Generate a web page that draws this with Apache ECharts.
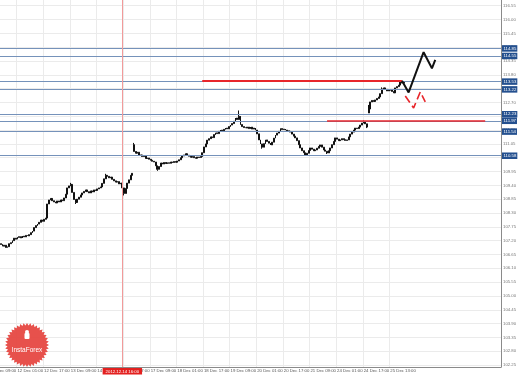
<!DOCTYPE html>
<html><head><meta charset="utf-8">
<script src="https://cdn.jsdelivr.net/npm/echarts@6/dist/echarts.min.js"></script>
<style>html,body{margin:0;padding:0;background:#fff}#c{width:518px;height:376px}</style>
</head><body><div id="c"></div>
<script>
// hourly closes, EUR/JPY-like, bar 0 = 11 Dec 15:00
const closes = [
107.05,106.98,107.02,106.93,106.96,107.08,107.12,107.20,107.30,107.26,
107.33,107.36,107.31,107.38,107.35,107.41,107.39,107.44,107.52,107.58,
107.72,107.80,107.86,107.93,108.02,107.97,108.05,108.10,108.66,108.82,
108.88,108.79,108.74,108.70,108.78,108.74,108.82,108.79,108.90,109.05,
109.30,109.38,109.44,109.12,108.84,108.72,108.85,108.93,109.02,109.10,
109.16,109.22,109.15,109.10,109.18,109.14,109.22,109.20,109.26,109.30,
109.34,109.48,109.66,109.80,109.76,109.70,109.73,109.64,109.58,109.53,
109.55,109.46,109.49,109.30,109.08,109.28,109.49,109.62,109.80,109.88,
110.75,110.68,110.72,110.60,110.61,110.55,110.58,110.47,110.49,110.44,
110.40,110.36,110.33,110.18,110.04,110.15,110.29,110.25,110.31,110.27,
110.30,110.28,110.33,110.31,110.35,110.32,110.37,110.42,110.50,110.57,
110.61,110.66,110.60,110.56,110.52,110.55,110.50,110.48,110.53,110.51,
110.55,110.70,110.93,111.05,111.20,111.26,111.33,111.30,111.42,111.49,
111.46,111.55,111.60,111.57,111.63,111.68,111.65,111.74,111.80,111.86,
111.95,112.08,112.02,112.15,111.82,111.74,111.70,111.68,111.72,111.66,
111.72,111.64,111.68,111.60,111.45,111.21,111.05,110.92,111.06,111.21,
111.15,111.08,111.01,111.12,111.28,111.40,111.48,111.55,111.66,111.62,
111.64,111.60,111.57,111.55,111.52,111.44,111.36,111.29,111.18,111.02,
110.89,110.78,110.70,110.61,110.68,110.79,110.89,110.84,110.78,110.81,
110.88,110.95,111.01,110.92,110.81,110.76,110.69,110.78,110.89,111.02,
111.15,111.29,111.24,111.18,111.21,111.26,111.22,111.19,111.21,111.33,
111.44,111.52,111.60,111.68,111.66,111.72,111.80,111.88,111.92,111.85,
111.72,112.44,112.72,112.78,112.74,112.80,112.86,112.92,113.05,113.24,
113.28,113.22,113.16,113.19,113.20,113.14,113.08,113.28,113.33,113.39,
113.51,113.47,113.50
];
const gapOpens = {0: 107.08, 80: 111.02, 221: 112.28};
const wickHighs = {80: 111.09, 143: 112.38, 221: 112.60, 229: 113.30, 218: 111.98, 42: 109.50, 63: 109.86};
const wickLows = {74: 109.00, 94: 109.98, 157: 110.86, 183: 110.57, 196: 110.65, 220: 111.68, 45: 108.66};
const totalSlots = 301;
const firstLabelBar = 10, labelStep = 16;
const xTickLabels = ['12 Dec 01:00','12 Dec 17:00','13 Dec 09:00','14 Dec 01:00','14 Dec 17:00',
  '17 Dec 09:00','18 Dec 01:00','18 Dec 17:00','19 Dec 09:00','20 Dec 01:00','20 Dec 17:00',
  '21 Dec 09:00','24 Dec 01:00','24 Dec 17:00','25 Dec 13:00'];
const yTicks = [102.25,102.80,103.35,103.90,104.45,105.00,105.55,106.10,106.65,107.20,107.75,
  108.30,108.85,109.40,109.95,110.50,111.05,111.60,112.15,112.70,113.25,113.80,114.35,114.90,
  115.45,116.00,116.55];
const levelLines = [114.85, 114.55, 113.53, 113.22, 112.23, 111.97, 111.54, 110.58];
const redLevelValues = [113.56, 111.96];
const redLevelStart = [121, 196];
const redLevelEnd = [241, 291];
const forecastBars = [241, 245, 254, 259, 261];
const forecastValues = [113.56, 113.10, 114.70, 114.06, 114.39];
const altBars = [243, 248, 252, 255];
const altValues = [112.96, 112.48, 113.12, 112.72];
const cursorBar = 73, cursorLabel = '2012.12.14 16:00';

const FONT = 'Liberation Sans';
const candles = closes.map((c, i) => {
  const o = gapOpens[i] !== undefined ? gapOpens[i] : closes[i - 1];
  const hi = wickHighs[i] !== undefined ? wickHighs[i] : Math.max(o, c);
  const lo = wickLows[i] !== undefined ? wickLows[i] : Math.min(o, c);
  return [o, c, lo, hi];
});
const cats = [];
for (let i = 0; i < totalSlots; i++) cats.push(String(i));
const isLabelBar = (i) => i >= firstLabelBar && (i - firstLabelBar) % labelStep === 0 &&
  (i - firstLabelBar) / labelStep < xTickLabels.length;

// starburst logo geometry
const star = [];
const cx = 27, cy = 345, nSp = 40;
for (let k = 0; k < nSp * 2; k++) {
  const r = k % 2 === 0 ? 22 : 19.5;
  const a = Math.PI * k / nSp;
  star.push([cx + r * Math.cos(a), cy + r * Math.sin(a)]);
}

const chart = echarts.init(document.getElementById('c'), null, {renderer: 'canvas'});
chart.setOption({
  animation: false,
  backgroundColor: '#ffffff',
  grid: {left: 0, right: 17, top: 0, bottom: 9, containLabel: false, outerBoundsMode: 'none'},
  xAxis: {
    type: 'category', data: cats, boundaryGap: true,
    axisLine: {show: true, lineStyle: {color: '#8a8a8a', width: 1}},
    axisTick: {show: false},
    axisLabel: {
      interval: (i) => isLabelBar(i), fontSize: 4.3, color: '#555', margin: 2, align: 'left',
      fontFamily: FONT,
      formatter: (v, i) => xTickLabels[(i - firstLabelBar) / labelStep]
    },
    splitLine: {show: true, interval: (i) => isLabelBar(i), lineStyle: {color: '#ebebeb', width: 1}}
  },
  yAxis: {
    type: 'value', position: 'right', min: 102.173, max: 116.777, scale: true,
    axisLine: {show: true, lineStyle: {color: '#8a8a8a', width: 1}},
    axisTick: {show: false, customValues: yTicks},
    axisLabel: {customValues: yTicks, fontSize: 4.3, color: '#777', margin: 2,
      fontFamily: FONT, formatter: (v) => v.toFixed(2)},
    splitLine: {show: true, lineStyle: {color: '#ebebeb', width: 1}}
  },
  series: [
    {
      type: 'line', data: [], silent: true,
      markLine: {
        silent: true, symbol: 'none', animation: false,
        lineStyle: {color: '#7592ba', width: 1, type: 'solid'},
        label: {show: true, position: 'end', distance: 1,
          backgroundColor: '#24508f', color: '#fff', fontSize: 4.3, padding: [1.5, 1, 1, 1.5],
          fontFamily: FONT, formatter: (p) => p.value.toFixed(2)},
        data: levelLines.map(v => ({yAxis: v}))
      }
    },
    {
      type: 'line', data: [], silent: true,
      markLine: {
        silent: true, symbol: 'none', animation: false,
        lineStyle: {color: '#f29a9a', width: 1, type: 'solid'},
        label: {show: true, position: 'start', distance: 1, formatter: cursorLabel,
          backgroundColor: '#e3201f', color: '#fff', fontSize: 4.3, padding: [1.5, 3, 1, 3],
          fontFamily: FONT},
        data: [{xAxis: cursorBar}]
      }
    },
    {
      type: 'candlestick', data: candles, barWidth: 1.4, z: 3,
      itemStyle: {color: '#111', color0: '#111', borderColor: '#111', borderColor0: '#111', borderWidth: 1}
    },
    {
      type: 'line', data: [], silent: true, z: 4,
      markLine: {
        silent: true, symbol: 'none', animation: false,
        lineStyle: {color: '#e8262b', width: 2, type: 'solid'},
        label: {show: false},
        data: redLevelValues.map((v, k) => [
          {coord: [redLevelStart[k], v], lineStyle: {color: '#e8262b', width: k === 0 ? 2 : 1.5}},
          {coord: [redLevelEnd[k], v]}
        ])
      }
    },
    {
      type: 'line', data: forecastBars.map((b, k) => [b, forecastValues[k]]),
      symbol: 'none', lineStyle: {color: '#111', width: 2}, z: 5
    },
    {
      type: 'line', data: altBars.map((b, k) => [b, altValues[k]]),
      symbol: 'none', lineStyle: {color: '#e8262b', width: 1.6, type: [8, 4]}, z: 5
    }
  ],
  graphic: [
    {type: 'text', left: -9, top: 369, style: {text: '11 Dec 09:00', fontSize: 4.3, fill: '#555', fontFamily: FONT}},
    {type: 'polygon', shape: {points: star}, style: {fill: '#e5423d', opacity: 0.92}, z: 10},
    {type: 'rect', shape: {x: 24.5, y: 333, width: 5, height: 6, r: 1}, style: {fill: '#fff'}, z: 11},
    {type: 'circle', shape: {cx: 27, cy: 332, r: 2}, style: {fill: '#fff'}, z: 11},
    {type: 'text', x: 27, y: 350, style: {text: 'InstaForex', fontSize: 6.5, fill: '#fff', align: 'center',
      verticalAlign: 'middle', fontFamily: FONT}, z: 11}
  ]
});
</script></body></html>
